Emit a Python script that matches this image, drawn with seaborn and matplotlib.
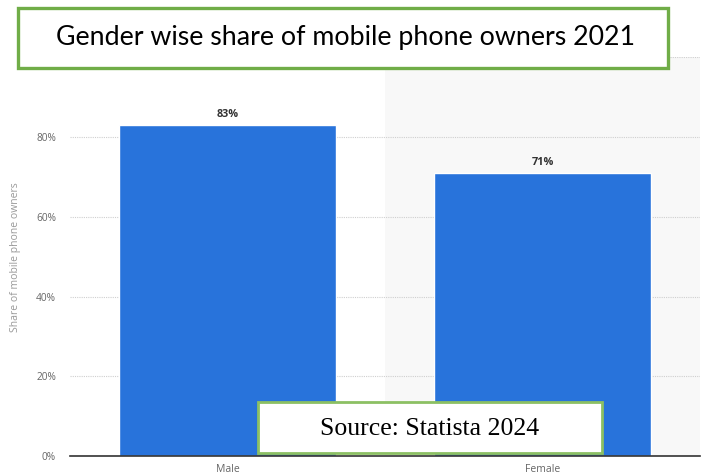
import matplotlib
matplotlib.use("Agg")
import matplotlib.pyplot as plt
import seaborn as sns
import pandas as pd
from matplotlib.patches import Rectangle

categories = ["Male", "Female"]
shares = [83, 71]
yticks = [0, 20, 40, 60, 80, 100]
ytick_labels = ["0%", "20%", "40%", "60%", "80%", "100%"]
title_text = "Gender wise share of mobile phone owners 2021"
source_text = "Source: Statista 2024"
ylabel_text = "Share of mobile phone owners"

df = pd.DataFrame({"gender": categories, "share": shares})

sns.set_theme(style="white")
plt.rcParams['font.family'] = ['Open Sans', 'DejaVu Sans']

W, H = 707, 475
fig = plt.figure(figsize=(W / 100, H / 100), dpi=100)
fig.patch.set_facecolor("white")
ax = fig.add_axes([70 / W, 19 / H, 630 / W, (456 - 57.5) / H])

ax.axvspan(0.5, 1.5, color="#f8f8f8", zorder=0, lw=0)
sns.barplot(data=df, x="gender", y="share", color="#2873db", saturation=1,
            width=0.686, ax=ax, zorder=3)
ax.set_xlim(-0.5, 1.5)
ax.set_ylim(0, 100)
ax.set_yticks(yticks)
ax.set_yticklabels(ytick_labels)
ax.yaxis.grid(True, linestyle=(0, (1, 1)), color="#cfcfcf", lw=0.8, zorder=1)
ax.set_axisbelow(True)
for s in ["top", "right", "left"]:
    ax.spines[s].set_visible(False)
ax.spines["bottom"].set_color("#333333")
ax.spines["bottom"].set_linewidth(1.2)
ax.spines["bottom"].set_zorder(5)
ax.tick_params(axis="y", length=0, pad=10, labelsize=7.3, labelcolor="#666666")
ax.tick_params(axis="x", length=0, pad=6, labelsize=7.5, labelcolor="#666666")
ax.set_xlabel("")
ax.set_ylabel(ylabel_text, fontsize=7.5, color="#999999")
ax.yaxis.set_label_coords(-0.078, 0.5)

for cont in ax.containers:
    ax.bar_label(cont, fmt="%d%%", padding=3.5, fontsize=7.8, fontweight="bold",
                 color="#333333")

# title box
fig.patches.append(Rectangle((18 / W, (H - 68) / H), 650 / W, 60 / H,
                             transform=fig.transFigure, facecolor="white",
                             edgecolor="#70ad47", lw=2.4, zorder=10))
fig.text(345 / W, (H - 37) / H, title_text, ha="center", va="center",
         fontsize=19.3, family=["Lato", "DejaVu Sans"], color="black", zorder=11)

# source box
fig.patches.append(Rectangle((258 / W, (H - 453) / H), 344 / W, 51 / H,
                             transform=fig.transFigure, facecolor="white",
                             edgecolor="#8cc063", lw=2, zorder=10))
fig.text(430 / W, (H - 429) / H, source_text, ha="center", va="center",
         fontsize=18.5, family=["Liberation Serif", "DejaVu Serif"], color="black",
         zorder=11)

fig.savefig("out.png", dpi=100)
